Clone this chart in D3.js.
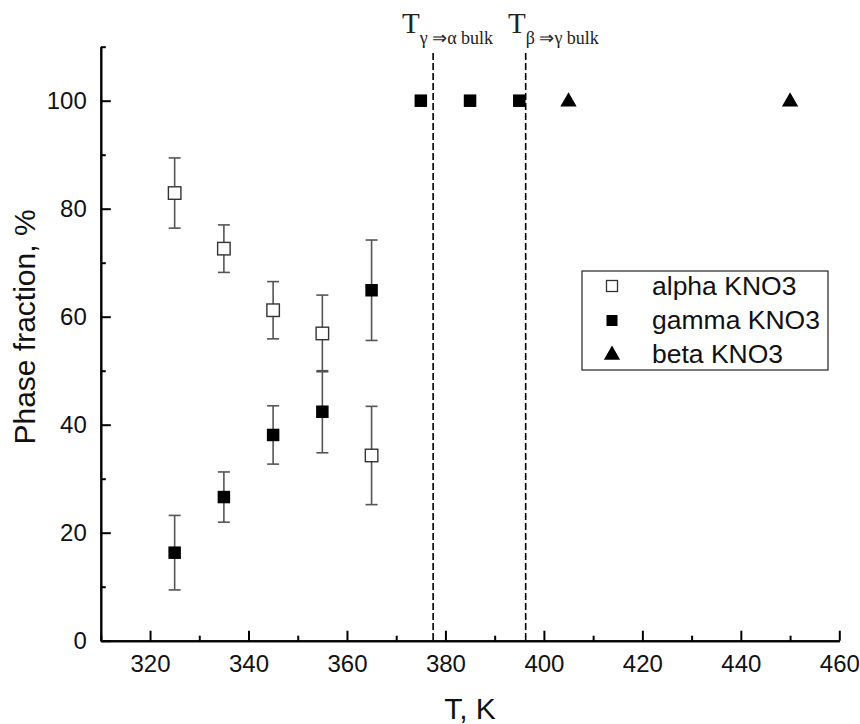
<!DOCTYPE html>
<html><head><meta charset="utf-8">
<script src="https://cdn.jsdelivr.net/npm/d3@7"></script>
<style>body{margin:0;background:#fff}</style>
</head><body>
<svg id="c" width="860" height="724"></svg>
<script>
// ---- data ----
const alphaT = [325, 335, 345, 355, 365];
const alphaV = [82.9, 72.6, 61.2, 56.9, 34.3];
const alphaE = [6.5, 4.4, 5.3, 7.1, 9.1];
const gammaT = [325, 335, 345, 355, 365, 375, 385, 395];
const gammaV = [16.3, 26.6, 38.1, 42.4, 64.9, 100, 100, 100];
const gammaE = [6.9, 4.65, 5.4, 7.6, 9.3, 0, 0, 0];
const betaT = [405, 450];
const betaV = [100, 100];
const transT = [377.5, 396.3];
const transSub = ["\u03b3 \u21d2\u03b1 bulk", "\u03b2 \u21d2\u03b3 bulk"];
const xTicks = [320, 340, 360, 380, 400, 420, 440, 460];
const xMinor = [310, 330, 350, 370, 390, 410, 430, 450];
const yTicks = [0, 20, 40, 60, 80, 100];
const yMinor = [10, 30, 50, 70, 90, 110];
const legendLabels = ["alpha KNO3", "gamma KNO3", "beta KNO3"];

const svg = d3.select("#c");
const x = d3.scaleLinear().domain([310, 460]).range([100.8, 839.3]);
const y = d3.scaleLinear().domain([0, 110]).range([640.7, 46.7]);
const font = "'Liberation Sans', Arial, sans-serif";

// axes
const gx = svg.append("g").attr("transform", `translate(0,${y(0)})`)
  .call(d3.axisBottom(x).tickValues(xTicks).tickSizeInner(-10).tickSizeOuter(0).tickPadding(14).tickFormat(d3.format("d")));
const gxm = svg.append("g").attr("transform", `translate(0,${y(0)})`)
  .call(d3.axisBottom(x).tickValues(xMinor).tickSizeInner(-5).tickSizeOuter(0).tickFormat(""));
const gy = svg.append("g").attr("transform", `translate(${x(310)},0)`)
  .call(d3.axisLeft(y).tickValues(yTicks).tickSizeInner(-10).tickSizeOuter(0).tickPadding(14).tickFormat(d3.format("d")));
const gym = svg.append("g").attr("transform", `translate(${x(310)},0)`)
  .call(d3.axisLeft(y).tickValues(yMinor).tickSizeInner(-5).tickSizeOuter(0).tickFormat(""));
[gx, gxm, gy, gym].forEach(g => {
  g.selectAll("path").attr("stroke", "#000").attr("stroke-width", 2);
  g.selectAll("line").attr("stroke", "#000").attr("stroke-width", 2);
  g.selectAll("text").attr("font-family", font).attr("font-size", 24).attr("fill", "#111");
});

// axis titles
svg.append("text").attr("x", 470).attr("y", 719).attr("text-anchor", "middle")
  .attr("font-family", font).attr("font-size", 30).attr("fill", "#111").text("T, K");
svg.append("text").attr("transform", `translate(35,327) rotate(-90)`).attr("text-anchor", "middle")
  .attr("font-family", font).attr("font-size", 30).attr("fill", "#111").text("Phase fraction, %");

// transition lines
svg.selectAll(".trans").data(transT).join("line")
  .attr("x1", d => x(d)).attr("x2", d => x(d)).attr("y1", 53).attr("y2", y(0))
  .attr("stroke", "#000").attr("stroke-width", 1.6).attr("stroke-dasharray", "7,3");
const tX = [402, 508];
transT.forEach((t, i) => {
  const tx = svg.append("text").attr("x", tX[i]).attr("y", 33)
    .attr("font-family", "'Liberation Serif', 'Times New Roman', serif").attr("fill", "#222");
  tx.append("tspan").attr("font-size", 29).text("T");
  tx.append("tspan").attr("font-size", 18).attr("dy", 11).attr("dx", 0).text(transSub[i]);
});

// error bars
function errbars(T, V, E) {
  const d = T.map((t, i) => ({t, v: V[i], e: E[i]})).filter(o => o.e > 0);
  const g = svg.append("g").attr("stroke", "#555").attr("stroke-width", 1.6);
  g.selectAll(".v").data(d).join("line")
    .attr("x1", o => x(o.t)).attr("x2", o => x(o.t))
    .attr("y1", o => y(o.v - o.e)).attr("y2", o => y(o.v + o.e));
  g.selectAll(".ct").data(d).join("line")
    .attr("x1", o => x(o.t) - 6).attr("x2", o => x(o.t) + 6)
    .attr("y1", o => y(o.v + o.e)).attr("y2", o => y(o.v + o.e));
  g.selectAll(".cb").data(d).join("line")
    .attr("x1", o => x(o.t) - 6).attr("x2", o => x(o.t) + 6)
    .attr("y1", o => y(o.v - o.e)).attr("y2", o => y(o.v - o.e));
}
errbars(alphaT, alphaV, alphaE);
errbars(gammaT, gammaV, gammaE);

const sq = 12.5;
// alpha open squares
svg.selectAll(".a").data(alphaT).join("rect")
  .attr("x", (d) => x(d) - sq / 2).attr("y", (d, i) => y(alphaV[i]) - sq / 2)
  .attr("width", sq).attr("height", sq).attr("fill", "#fff").attr("stroke", "#333").attr("stroke-width", 1.4);
// gamma filled squares
svg.selectAll(".g").data(gammaT).join("rect")
  .attr("x", (d) => x(d) - sq / 2).attr("y", (d, i) => y(gammaV[i]) - sq / 2)
  .attr("width", sq).attr("height", sq).attr("fill", "#000");
// beta triangles
const tri = d3.symbol().type(d3.symbolTriangle).size(115);
svg.selectAll(".b").data(betaT).join("path")
  .attr("d", tri).attr("transform", (d, i) => `translate(${x(d)},${y(betaV[i]) + 1})`).attr("fill", "#000");

// legend
const lg = svg.append("g");
lg.append("rect").attr("x", 582).attr("y", 271).attr("width", 246).attr("height", 99)
  .attr("fill", "#fff").attr("stroke", "#222").attr("stroke-width", 1.2);
const ly = [286, 320.5, 354];
const lb = [295, 329, 363];
lg.append("rect").attr("x", 606.5).attr("y", ly[0] - 5.5).attr("width", 11).attr("height", 11)
  .attr("fill", "#fff").attr("stroke", "#333").attr("stroke-width", 1.3);
lg.append("rect").attr("x", 606.5).attr("y", ly[1] - 5.5).attr("width", 11).attr("height", 11).attr("fill", "#000");
lg.append("path").attr("d", tri).attr("transform", `translate(612,${ly[2] + 1})`).attr("fill", "#000");
lg.selectAll(".lt").data(legendLabels).join("text")
  .attr("x", 652).attr("y", (d, i) => lb[i])
  .attr("font-family", font).attr("font-size", 26.5).attr("fill", "#111").text(d => d);
</script>
</body></html>
